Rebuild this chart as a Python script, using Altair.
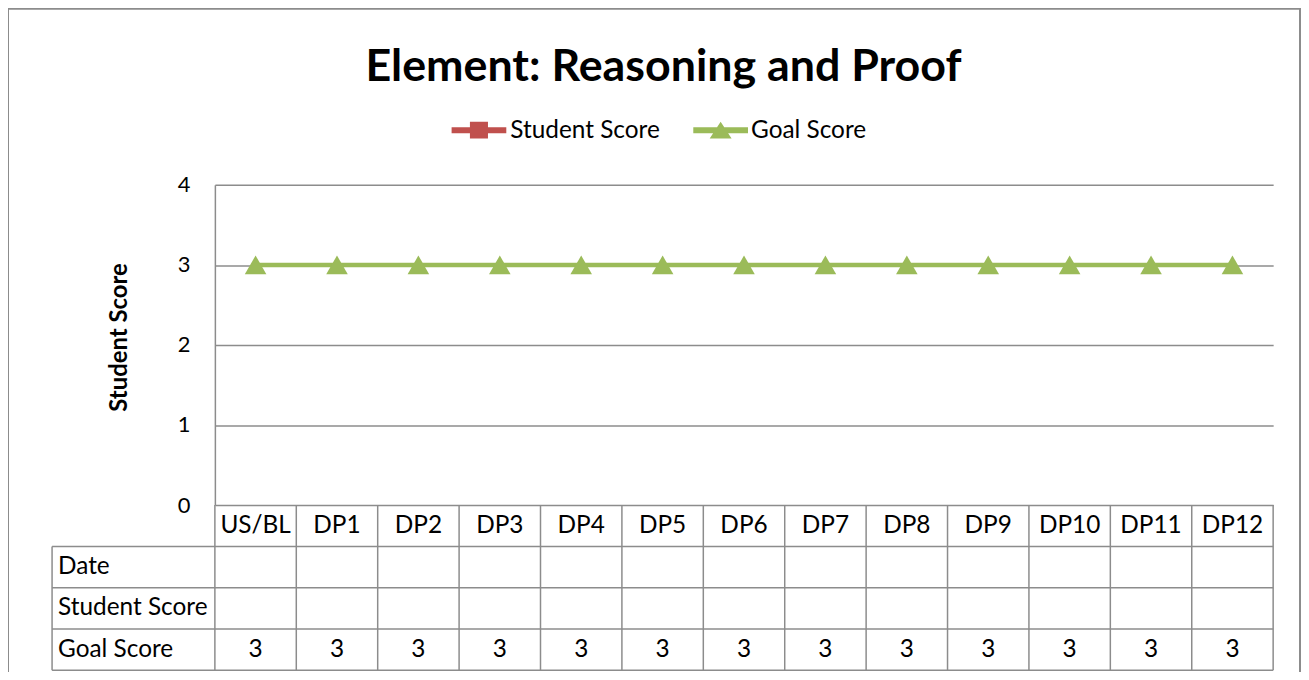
import altair as alt
import pandas as pd

# ---------------- data ----------------
categories = ["US/BL", "DP1", "DP2", "DP3", "DP4", "DP5", "DP6",
              "DP7", "DP8", "DP9", "DP10", "DP11", "DP12"]
student_scores = [None] * 13
goal_scores = [3, 3, 3, 3, 3, 3, 3, 3, 3, 3, 3, 3, 3]
dates = [""] * 13
series_names = ["Student Score", "Goal Score"]
series_colors = ["#C0504D", "#9BBB59"]
row_labels = ["Date", "Student Score", "Goal Score"]
y_ticks = [0, 1, 2, 3, 4]
chart_title = "Element: Reasoning and Proof"
y_title = "Student Score"

# ---------------- layout constants ----------------
FONT = "Lato"
TXT = 24.5
N = len(categories)
LABEL_COLS = 2          # width of the row-label column, in category widths
ROW_H = 0.5155          # table row height, in y units
GRID = "#8c8c8c"
LEG_Y = -55             # legend row centre, px above the plot top
LEG_SYM_X = [265.5, 508.5]   # legend symbol centres, px from plot left
LEG_LAB_X = [297, 539]       # legend label starts, px from plot left

# ---------------- tables ----------------
scores = []
for i, c in enumerate(categories):
    scores.append({"cat": c, "x": i + 0.5, "series": "Student Score", "y": student_scores[i]})
    scores.append({"cat": c, "x": i + 0.5, "series": "Goal Score", "y": goal_scores[i]})
scores_df = pd.DataFrame(scores)

legend_df = pd.DataFrame({"series": series_names})

vrules = [{"x": b, "y": 0.0, "y2": -4 * ROW_H} for b in range(N + 1)]
vrules.append({"x": -LABEL_COLS, "y": -ROW_H, "y2": -4 * ROW_H})
vrules_df = pd.DataFrame(vrules)
hrules_df = pd.DataFrame([{"x": -LABEL_COLS, "x2": N, "y": -k * ROW_H} for k in range(1, 5)])

def fmt(v):
    return "" if v is None else str(v)

cells = []
for i, c in enumerate(categories):
    cells.append({"x": i + 0.5, "y": -0.5 * ROW_H, "text": c})
row_values = [dates, [fmt(v) for v in student_scores], [fmt(v) for v in goal_scores]]
for k, vals in enumerate(row_values):
    for i, v in enumerate(vals):
        cells.append({"x": i + 0.5, "y": -(k + 1.5) * ROW_H, "text": v})
cells_df = pd.DataFrame(cells)
rowlab_df = pd.DataFrame([{"x": -LABEL_COLS, "y": -(k + 1.5) * ROW_H, "text": t}
                          for k, t in enumerate(row_labels)])

# ---------------- encodings ----------------
X = alt.X("x:Q", scale=alt.Scale(domain=[0, N], nice=False, zero=False), axis=None)
Y = alt.Y("y:Q", scale=alt.Scale(domain=[0, 4], nice=False, zero=False),
          axis=alt.Axis(values=y_ticks, grid=True, gridColor=GRID, gridWidth=1.5,
                        ticks=False, domain=True, domainColor=GRID, domainWidth=1.5,
                        labelFont=FONT, labelFontSize=22, labelColor="#000000",
                        labelPadding=25, labelAlign="right", labelBaseline="middle",
                        title=y_title, titleFont=FONT, titleFontSize=24,
                        titleFontWeight="bold", titleColor="#000000",
                        titleAngle=270, titleX=-96, titleY=153,
                        titleAlign="center", titleBaseline="middle"))
color_scale = alt.Scale(domain=series_names, range=series_colors)

legend_paths = [
    "M-1,-0.11H1V0.11H-1Z M-0.33,-0.31H0.33V0.31H-0.33Z",
    "M-1,-0.11H1V0.11H-1Z M0,-0.31L0.4,0.31H-0.4Z",
]
shape_scale = alt.Scale(domain=series_names, range=legend_paths)

border = alt.Chart(pd.DataFrame({"k": [0]})).mark_rect(
    fill=None, stroke=GRID, strokeWidth=2
).encode(x=alt.value(-208), x2=alt.value(1091), y=alt.value(-177), y2=alt.value(700))

lines = alt.Chart(scores_df).mark_line(strokeWidth=4.5).encode(
    x=X, y=Y, color=alt.Color("series:N", scale=color_scale, legend=None),
    detail="series:N")

pts_student = alt.Chart(scores_df).transform_filter(
    alt.datum.series == "Student Score").mark_point(
    filled=True, opacity=1, shape="square", size=290).encode(
    x=X, y=Y, color=alt.Color("series:N", scale=color_scale, legend=None))

pts_goal = alt.Chart(scores_df).transform_filter(
    alt.datum.series == "Goal Score").mark_point(
    filled=True, opacity=1, shape="triangle-up", size=470).encode(
    x=X, y=Y, color=alt.Color("series:N", scale=color_scale, legend=None))

# legend (symbol = line + marker, label to its right)
legend_layers = []
for k, name in enumerate(series_names):
    base = alt.Chart(legend_df).transform_filter(alt.datum.series == name)
    legend_layers.append(base.mark_point(filled=True, opacity=1, size=3025).encode(
        x=alt.value(LEG_SYM_X[k]), y=alt.value(LEG_Y),
        fill=alt.Fill("series:N", scale=color_scale, legend=None),
        shape=alt.Shape("series:N", scale=shape_scale, legend=None)))
    legend_layers.append(base.mark_text(
        font=FONT, fontSize=TXT, color="#000000", align="left", baseline="middle", dy=1
    ).encode(x=alt.value(LEG_LAB_X[k]), y=alt.value(LEG_Y), text="series:N"))

vr = alt.Chart(vrules_df).mark_rule(color=GRID, strokeWidth=1.5).encode(
    x=X, y=Y, y2="y2:Q")
hr = alt.Chart(hrules_df).mark_rule(color=GRID, strokeWidth=1.5).encode(
    x=X, x2="x2:Q", y=Y)

cell_text = alt.Chart(cells_df).mark_text(
    font=FONT, fontSize=TXT, color="#000000", align="center", baseline="middle"
).encode(x=X, y=Y, text="text:N")

row_text = alt.Chart(rowlab_df).mark_text(
    font=FONT, fontSize=TXT, color="#000000", align="left", baseline="middle", dx=6
).encode(x=X, y=Y, text="text:N")

chart = alt.layer(
    border, vr, hr, lines, pts_student, pts_goal, *legend_layers, cell_text, row_text
).properties(
    width=1064, height=322,
    autosize=alt.AutoSizeParams(type="none"),
    padding={"left": 208, "top": 176, "right": 28, "bottom": 166},
    title=alt.TitleParams(chart_title, font=FONT, fontSize=45, fontWeight="bold",
                          color="#000000", anchor="middle", baseline="alphabetic",
                          offset=-119, dx=-81),
).configure_view(stroke=None)

chart.save("out.html", embed_options={"renderer": "svg", "actions": False})
